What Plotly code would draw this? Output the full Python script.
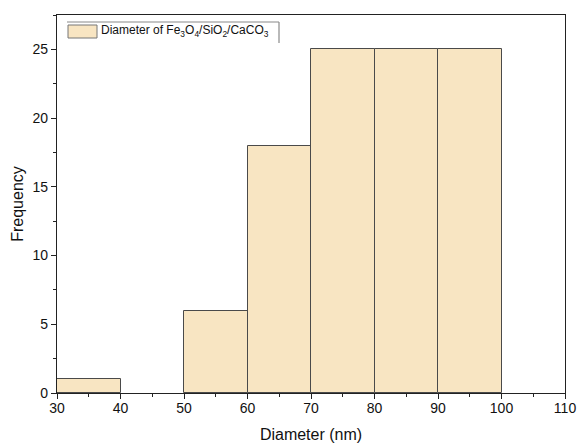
import plotly.graph_objects as go

# Histogram bins (nm) and counts
bin_left = [30, 40, 50, 60, 70, 80, 90]
bin_width = 10
counts = [1, 0, 6, 18, 25, 25, 25]

x_ticks = [30, 40, 50, 60, 70, 80, 90, 100, 110]
y_ticks = [0, 5, 10, 15, 20, 25]

legend_label = "Diameter of Fe<sub>3</sub>O<sub>4</sub>/SiO<sub>2</sub>/CaCO<sub>3</sub>"

FILL = "#F8E5C2"
EDGE = "#4a4a4a"
FONT = "Liberation Sans, Arial"

W, H = 580, 445
L, R, T, B = 57, 15, 15, 52
PW, PH = W - L - R, H - T - B


def px_x(px):
    return (px - L) / PW


def px_y(py):
    return (H - B - py) / PH


centers = [b + bin_width / 2 for b in bin_left]

fig = go.Figure()
fig.add_trace(go.Bar(
    x=centers,
    y=counts,
    width=[bin_width] * len(centers),
    marker=dict(color=FILL,
                line=dict(color=EDGE, width=[1 if c > 0 else 0 for c in counts])),
    showlegend=False,
))

axis_common = dict(
    showgrid=False,
    zeroline=False,
    showline=True,
    linecolor="#222",
    linewidth=1.3,
    mirror=True,
    ticks="outside",
    ticklen=5,
    tickcolor="#222",
    automargin=False,
    tickfont=dict(family=FONT, size=14, color="#111"),
)

fig.update_xaxes(
    range=[30, 110],
    tickvals=x_ticks,
    ticklabelstandoff=-3,
    title=dict(text="Diameter (nm)", font=dict(family=FONT, size=16, color="#111"), standoff=13),
    minor=dict(dtick=5, tick0=30, ticks="outside", ticklen=3, tickcolor="#222"),
    **axis_common,
)
fig.update_yaxes(
    range=[0, 27.5],
    tickvals=y_ticks,
    title=dict(text="Frequency", font=dict(family=FONT, size=16, color="#111"), standoff=4),
    minor=dict(dtick=2.5, tick0=0, ticks="outside", ticklen=3, tickcolor="#222"),
    **axis_common,
)

# Legend box drawn as shapes so the swatch matches the wide rectangle style
shapes = [
    dict(type="line", xref="paper", yref="paper",
         x0=px_x(67), x1=px_x(279), y0=px_y(22), y1=px_y(22),
         line=dict(color="#8a8a8a", width=1.2)),
    dict(type="line", xref="paper", yref="paper",
         x0=px_x(279), x1=px_x(279), y0=px_y(22), y1=px_y(43),
         line=dict(color="#8a8a8a", width=1.2)),
    dict(type="rect", xref="paper", yref="paper",
         x0=px_x(68), x1=px_x(97), y0=px_y(38), y1=px_y(25),
         fillcolor=FILL, line=dict(color="#777", width=1)),
]
annotations = [
    dict(text=legend_label, xref="paper", yref="paper",
         x=px_x(99), y=px_y(31.5), xanchor="left", yanchor="middle",
         showarrow=False, font=dict(family=FONT, size=12, color="#111")),
]

fig.update_layout(
    width=W,
    height=H,
    margin=dict(l=L, r=R, t=T, b=B),
    paper_bgcolor="white",
    plot_bgcolor="white",
    bargap=0,
    showlegend=False,
    shapes=shapes,
    annotations=annotations,
)

fig.write_html("out.html")
